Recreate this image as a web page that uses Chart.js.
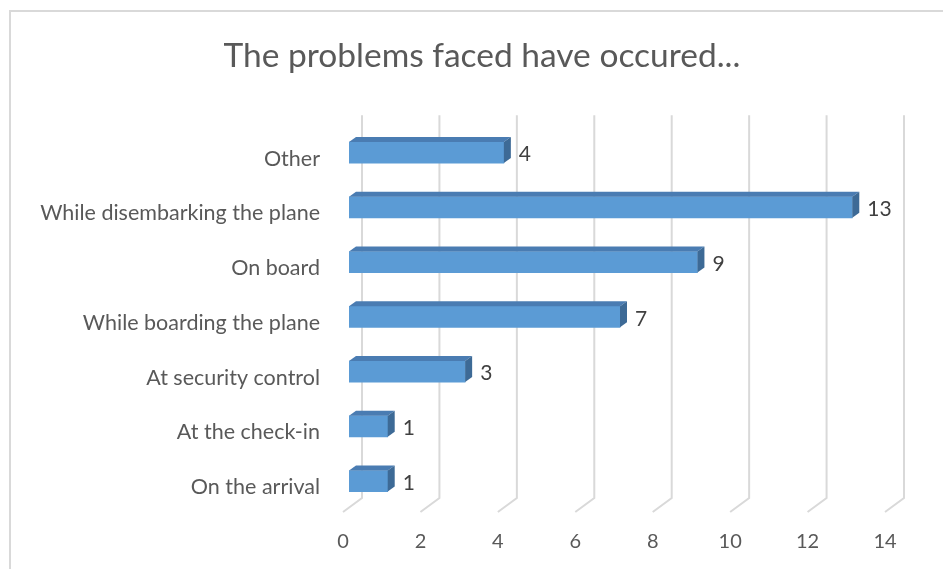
<!DOCTYPE html>
<html>
<head>
<meta charset="utf-8">
<script src="https://cdn.jsdelivr.net/npm/chart.js@4.4.1/dist/chart.umd.min.js"></script>
<style>
  body { margin: 0; background: #fff; }
  #frame { position: absolute; left: 9px; top: 10px; right: 0; bottom: 0; border-left: 2px solid #d9d9d9; border-top: 2px solid #d9d9d9; }
  canvas { position: absolute; left: 0; top: 0; }
</style>
</head>
<body>
<div id="frame"></div>
<canvas id="problemsChart" width="943" height="569"></canvas>
<script>
const categories = [
    'Other',
    'While disembarking the plane',
    'On board',
    'While boarding the plane',
    'At security control',
    'At the check-in',
    'On the arrival'
];
const counts = [4, 13, 9, 7, 3, 1, 1];
const axisMin = 0;
const axisMax = 14;
const axisStep = 2;

const FONT = 'Lato, "Open Sans", sans-serif';
const DEPTH_X = 7, DEPTH_Y = -5;

// back wall gridlines that bend forward at the floor
const gridPlugin = {
    id: 'grid3d',
    beforeDatasetsDraw(chart) {
        const { ctx, chartArea, scales } = chart;
        const xs = scales.x;
        ctx.save();
        ctx.strokeStyle = '#d9d9d9';
        ctx.lineWidth = 2;
        xs.ticks.forEach(t => {
            const px = xs.getPixelForValue(t.value);
            ctx.beginPath();
            ctx.moveTo(px + 13, chartArea.top - 10);
            ctx.lineTo(px + 13, chartArea.bottom - 10.5);
            ctx.lineTo(px - 6, chartArea.bottom + 3.5);
            ctx.stroke();
        });
        ctx.restore();
    }
};

// top + side faces of each bar, then the value label
const barFacesPlugin = {
    id: 'barFaces',
    afterDatasetsDraw(chart) {
        const { ctx } = chart;
        const meta = chart.getDatasetMeta(0);
        ctx.save();
        meta.data.forEach((bar, i) => {
            const { x, y, base, height } = bar.getProps(['x', 'y', 'base', 'height'], true);
            const top = y - height / 2, bot = y + height / 2;
            ctx.fillStyle = '#4a7cb2';
            ctx.beginPath();
            ctx.moveTo(base, top);
            ctx.lineTo(x, top);
            ctx.lineTo(x + DEPTH_X, top + DEPTH_Y);
            ctx.lineTo(base + DEPTH_X, top + DEPTH_Y);
            ctx.closePath();
            ctx.fill();
            ctx.fillStyle = '#3d6a96';
            ctx.beginPath();
            ctx.moveTo(x, top);
            ctx.lineTo(x + DEPTH_X, top + DEPTH_Y);
            ctx.lineTo(x + DEPTH_X, bot + DEPTH_Y);
            ctx.lineTo(x, bot);
            ctx.closePath();
            ctx.fill();

            ctx.fillStyle = '#404040';
            ctx.font = '21px ' + FONT;
            ctx.textAlign = 'left';
            ctx.textBaseline = 'middle';
            ctx.fillText(String(counts[i]), x + DEPTH_X + 8, y + 2);
        });
        ctx.restore();
    }
};

new Chart(document.getElementById('problemsChart').getContext('2d'), {
    type: 'bar',
    data: {
        labels: categories,
        datasets: [{
            data: counts,
            backgroundColor: '#5b9bd5',
            borderWidth: 0,
            barThickness: 21
        }]
    },
    options: {
        indexAxis: 'y',
        responsive: false,
        animation: false,
        layout: { padding: { left: 21, right: 0, top: 0, bottom: 0 } },
        plugins: {
            legend: { display: false },
            tooltip: { enabled: false },
            title: {
                display: true,
                text: 'The problems faced have occured...',
                color: '#595959',
                font: { family: FONT, size: 33.5, weight: 'normal' },
                padding: { top: 36, bottom: 49 }
            }
        },
        scales: {
            x: {
                min: axisMin,
                max: axisMax,
                grid: { display: false },
                border: { display: false },
                ticks: {
                    stepSize: axisStep,
                    color: '#595959',
                    font: { family: FONT, size: 20 },
                    padding: 13,
                    labelOffset: -6
                },
                afterFit(scale) { scale.height = 60.5; }
            },
            y: {
                grid: { display: false },
                border: { display: false },
                ticks: {
                    color: '#595959',
                    font: { family: FONT, size: 21.5 },
                    padding: 21,
                    labelOffset: 6
                },
                afterFit(scale) { scale.width = 349 - 21; }
            },
            // empty right-hand strip that keeps room for the value labels
            yRight: {
                type: 'linear',
                position: 'right',
                grid: { display: false },
                border: { display: false },
                ticks: { display: false },
                afterFit(scale) { scale.width = 52; }
            }
        }
    },
    plugins: [gridPlugin, barFacesPlugin]
});
</script>
</body>
</html>
